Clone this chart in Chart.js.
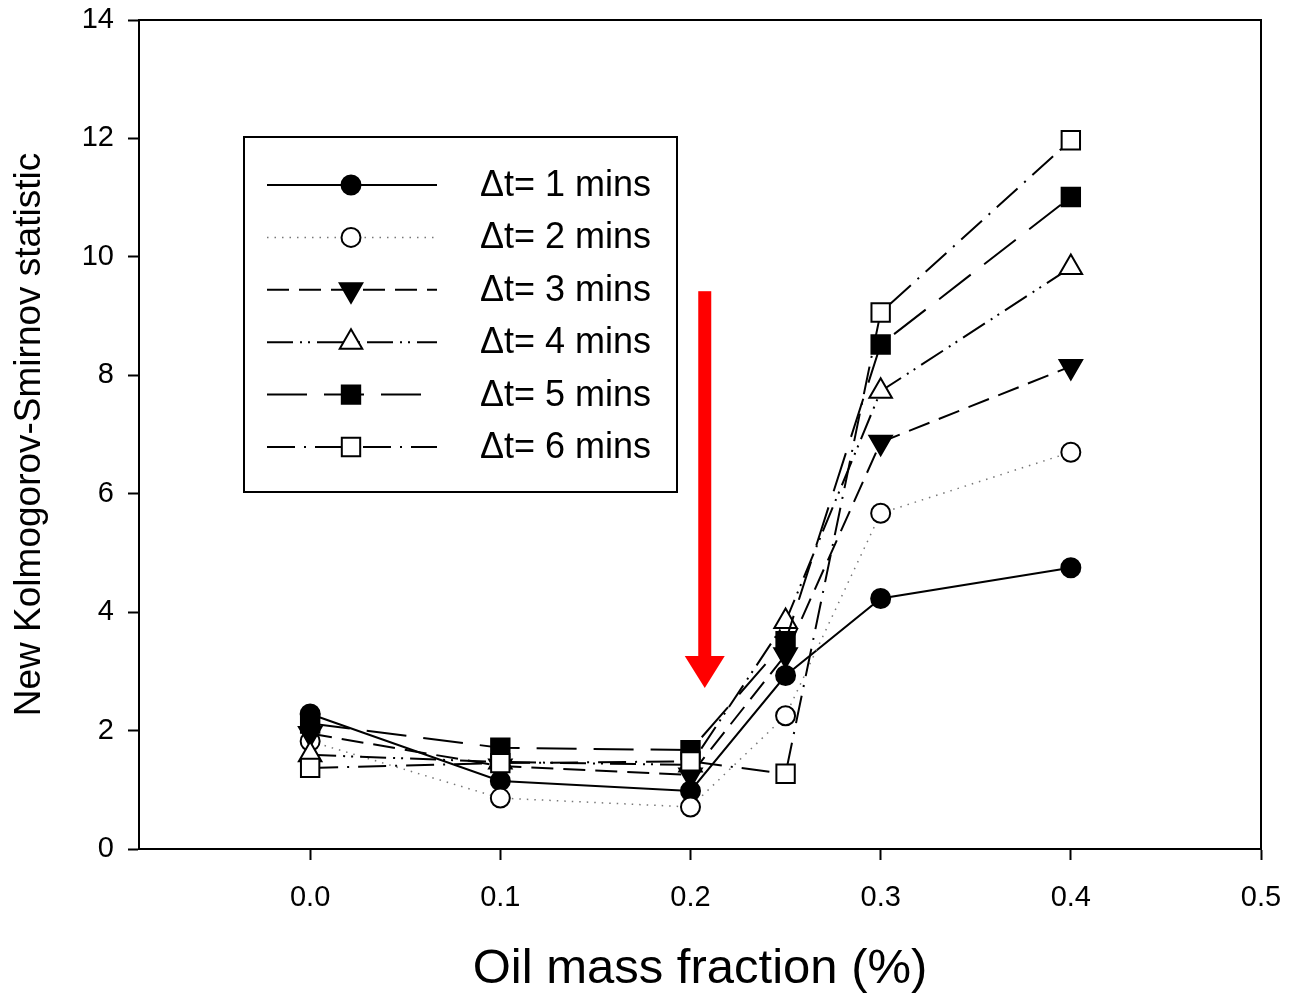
<!DOCTYPE html>
<html>
<head>
<meta charset="utf-8">
<script src="https://cdn.jsdelivr.net/npm/chart.js@4.4.1/dist/chart.umd.min.js"></script>
<style>
  html, body { margin: 0; padding: 0; background: #fff; }
  #wrap { width: 1289px; height: 999px; position: relative; }
</style>
</head>
<body>
<div id="wrap"><canvas id="c" width="1289" height="999"></canvas></div>
<script>
// ---- data ----
const oilFraction = [0.0, 0.1, 0.2, 0.25, 0.3, 0.4];
const seriesLabels = ['\u0394t= 1 mins', '\u0394t= 2 mins', '\u0394t= 3 mins', '\u0394t= 4 mins', '\u0394t= 5 mins', '\u0394t= 6 mins'];
const dt1 = [2.28, 1.15, 0.98, 2.93, 4.23, 4.75];
const dt2 = [1.82, 0.86, 0.71, 2.25, 5.67, 6.70];
const dt3 = [1.95, 1.40, 1.25, 3.28, 6.87, 8.15];
const dt4 = [1.59, 1.47, 1.42, 3.84, 7.73, 9.82];
const dt5 = [2.12, 1.71, 1.67, 3.51, 8.52, 11.01];
const dt6 = [1.37, 1.45, 1.48, 1.27, 9.06, 11.97];
const xTickValues = [0.0, 0.1, 0.2, 0.3, 0.4, 0.5];
const yTickValues = [0, 2, 4, 6, 8, 10, 12, 14];
const arrowX = 0.2075, arrowTop = 9.42, arrowTip = 2.72;

const FONT = '"Liberation Sans", Arial, Helvetica, sans-serif';
const allSeries = [dt1, dt2, dt3, dt4, dt5, dt6];
const styles = [
  { pointStyle: 'circle',   radius: 9.5, rotation: 0,   fill: '#000', dash: [],                  color: '#000', width: 2 },
  { pointStyle: 'circle',   radius: 9.5, rotation: 0,   fill: '#fff', dash: [1.5, 6],            color: '#777', width: 1.5 },
  { pointStyle: 'triangle', radius: 13,  rotation: 180, fill: '#000', dash: [22, 10],            color: '#000', width: 2 },
  { pointStyle: 'triangle', radius: 13,  rotation: 0,   fill: '#fff', dash: [26, 7, 2, 6, 2, 7], color: '#000', width: 2 },
  { pointStyle: 'rect',     radius: 13,  rotation: 0,   fill: '#000', dash: [40, 17],            color: '#000', width: 2 },
  { pointStyle: 'rect',     radius: 13,  rotation: 0,   fill: '#fff', dash: [28, 9, 2, 9],       color: '#000', width: 2 }
];

const datasets = allSeries.map((vals, i) => ({
  label: seriesLabels[i],
  data: oilFraction.map((x, j) => ({ x: x, y: vals[j] })),
  borderColor: styles[i].color,
  borderWidth: styles[i].width,
  borderDash: styles[i].dash,
  pointStyle: styles[i].pointStyle,
  pointRadius: styles[i].radius,
  pointRotation: styles[i].rotation,
  pointBackgroundColor: styles[i].fill,
  pointBorderColor: '#000',
  pointBorderWidth: 2,
  tension: 0,
  fill: false,
  order: -i
}));

const framePlugin = {
  id: 'frame',
  afterDatasetsDraw(chart) {
    const { ctx, chartArea: a, scales } = chart;
    ctx.save();
    ctx.strokeStyle = '#000';
    ctx.lineWidth = 2;
    ctx.strokeRect(a.left, a.top, a.right - a.left, a.bottom - a.top);

    // red arrow
    const ax = scales.x.getPixelForValue(arrowX);
    const yTop = scales.y.getPixelForValue(arrowTop);
    const yTip = scales.y.getPixelForValue(arrowTip);
    const headLen = 32, headHalf = 20, shaftHalf = 6.5;
    ctx.fillStyle = '#ff0000';
    ctx.fillRect(ax - shaftHalf, yTop, shaftHalf * 2, (yTip - headLen) - yTop + 1);
    ctx.beginPath();
    ctx.moveTo(ax - headHalf, yTip - headLen);
    ctx.lineTo(ax + headHalf, yTip - headLen);
    ctx.lineTo(ax, yTip);
    ctx.closePath();
    ctx.fill();

    // legend box
    const lx = 244, ly = 137, lw = 433, lh = 355;
    ctx.fillStyle = '#fff';
    ctx.fillRect(lx, ly, lw, lh);
    ctx.strokeStyle = '#000';
    ctx.lineWidth = 2;
    ctx.strokeRect(lx, ly, lw, lh);
    const rowY0 = 185, rowStep = 52.4;
    chart.data.datasets.forEach((ds, i) => {
      const y = rowY0 + i * rowStep;
      ctx.save();
      ctx.strokeStyle = ds.borderColor;
      ctx.lineWidth = ds.borderWidth;
      ctx.setLineDash(ds.borderDash);
      ctx.beginPath();
      ctx.moveTo(267, y);
      ctx.lineTo(437, y);
      ctx.stroke();
      ctx.restore();
      ctx.save();
      ctx.fillStyle = ds.pointBackgroundColor;
      ctx.strokeStyle = '#000';
      ctx.lineWidth = 2;
      Chart.helpers.drawPoint(ctx, {
        pointStyle: ds.pointStyle, radius: ds.pointRadius, rotation: ds.pointRotation, borderWidth: 2
      }, 351, y);
      ctx.restore();
      ctx.fillStyle = '#000';
      ctx.font = '36px ' + FONT;
      ctx.textBaseline = 'middle';
      ctx.textAlign = 'left';
      ctx.fillText(ds.label, 480, y + 1);
    });
    ctx.restore();
  }
};

new Chart(document.getElementById('c'), {
  type: 'line',
  data: { datasets: datasets },
  options: {
    responsive: false,
    animation: false,
    devicePixelRatio: 1,
    layout: { padding: { top: 20, right: 28, left: 0, bottom: 0 } },
    plugins: { legend: { display: false }, tooltip: { enabled: false } },
    scales: {
      x: {
        type: 'linear',
        min: -0.09,
        max: 0.5,
        afterBuildTicks(scale) { scale.ticks = xTickValues.map(v => ({ value: v })); },
        afterFit(scale) { scale.height = 150; scale.paddingLeft = 0; scale.paddingRight = 0; },
        border: { display: true, color: '#000', width: 2 },
        grid: { drawOnChartArea: false, drawTicks: true, tickLength: 11, tickColor: '#000', tickWidth: 2 },
        ticks: {
          color: '#000', padding: 21, maxRotation: 0, autoSkip: false,
          font: { family: FONT, size: 29 },
          callback: v => Number(v).toFixed(1)
        },
        title: {
          display: true, text: 'Oil mass fraction (%)', color: '#000',
          font: { family: FONT, size: 49 }, padding: { top: 0, bottom: 0 }
        }
      },
      y: {
        type: 'linear',
        min: 0,
        max: 14,
        afterBuildTicks(scale) { scale.ticks = yTickValues.map(v => ({ value: v })); },
        afterFit(scale) { scale.width = 139; scale.paddingTop = 0; scale.paddingBottom = 0; },
        border: { display: true, color: '#000', width: 2 },
        grid: { drawOnChartArea: false, drawTicks: true, tickLength: 11, tickColor: '#000', tickWidth: 2 },
        ticks: {
          color: '#000', padding: 14, autoSkip: false,
          font: { family: FONT, size: 29 },
          callback: v => String(v)
        },
        title: {
          display: true, text: 'New Kolmogorov-Smirnov statistic', color: '#000',
          font: { family: FONT, size: 37 }, padding: { top: 8, bottom: 0 }
        }
      }
    }
  },
  plugins: [framePlugin]
});
</script>
</body>
</html>
